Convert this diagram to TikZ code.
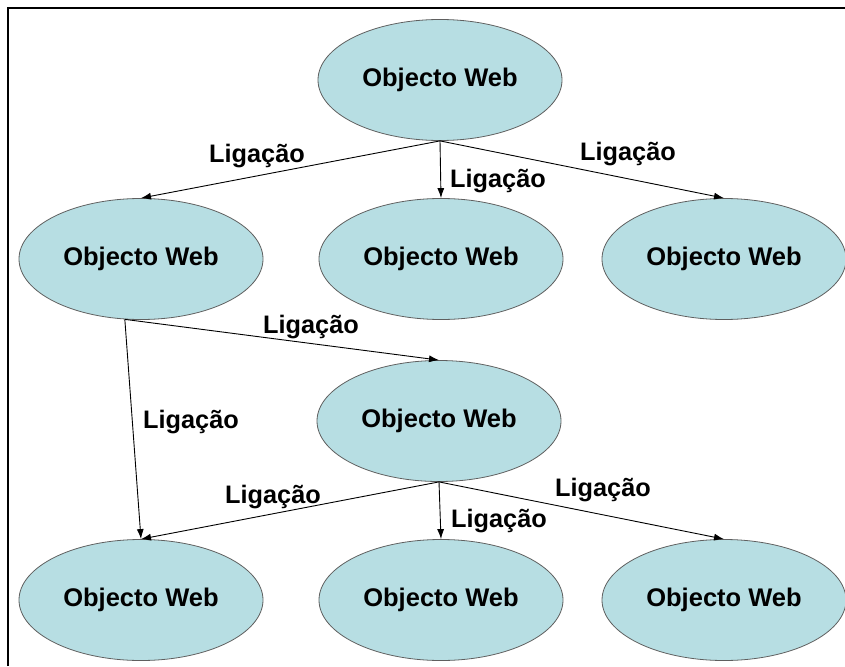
\documentclass[tikz,border=0pt]{standalone}
\usepackage{fontspec}
\setmainfont{Liberation Sans}
\usetikzlibrary{arrows.meta}
\usetikzlibrary{shapes.geometric}

\definecolor{webfill}{RGB}{183,222,227}
\definecolor{webline}{RGB}{95,95,95}

\begin{document}
\begin{tikzpicture}[x=1pt,y=-1pt,
                obj/.style={ellipse,draw=webline,fill=webfill,line width=0.8pt,
                    minimum width=244pt,minimum height=121pt,inner sep=0pt,
                    font=\fontsize{25.5}{30}\selectfont\bfseries},
                lbl/.style={anchor=base west,inner sep=0pt,
                    font=\fontsize{25.3}{30}\selectfont\bfseries},
                link/.style={-{Latex[length=10pt,width=7pt]},line width=0.9pt}
                ]
            \useasboundingbox (0,0) rectangle (845,666);
            \draw[line width=1.8pt] (8,666) -- (8,8) -- (845,8);

            \node[obj] (W0) at (440,80) {Objecto Web};
            \node[obj] (W1) at (141,259) {Objecto Web};
            \node[obj] (W2) at (441,259) {Objecto Web};
            \node[obj] (W3) at (724,259) {Objecto Web};
            \node[obj] (M) at (439,421) {Objecto Web};
            \node[obj] (B1) at (141,600) {Objecto Web};
            \node[obj] (B2) at (441,600) {Objecto Web};
            \node[obj] (B3) at (724,600) {Objecto Web};

            \draw[link] (W0.south) to (W1.north);
            \draw[link] (W0.south) to (W2.north);
            \draw[link] (W0.south) to (W3.north);

            \draw[link] (W1.255) to (M.north);
            \draw[link] (W1.255) to (B1.north);

            \draw[link] (M.south) to (B1.north);
            \draw[link] (M.south) to (B2.north);
            \draw[link] (M.south) to (B3.north);

            \node[lbl] (L1) at (209,162) {Ligação};
            \node[lbl] (L2) at (450,187) {Ligação};
            \node[lbl] (L3) at (580,160) {Ligação};
            \node[lbl] (L4) at (263,333) {Ligação};
            \node[lbl] (L5) at (143,428) {Ligação};
            \node[lbl] (L6) at (225,503) {Ligação};
            \node[lbl] (L7) at (451,527) {Ligação};
            \node[lbl] (L8) at (555,496) {Ligação};

            \end{tikzpicture}
\end{document}
